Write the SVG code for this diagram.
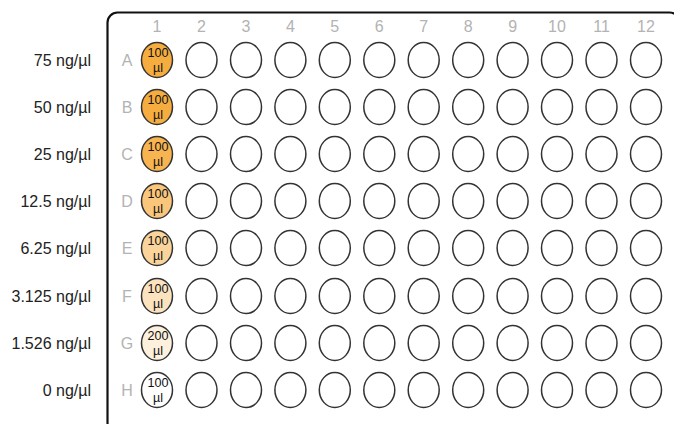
<svg xmlns="http://www.w3.org/2000/svg" width="674" height="424" viewBox="0 0 674 424">
<defs>
<style>
.frame{fill:#fff;stroke:#111;stroke-width:2.2}
.well{stroke:#333;stroke-width:1.5;fill:#fff}
.hdr{font-family:"Liberation Sans",Arial,sans-serif;font-size:16px;fill:#b3b3b3;text-anchor:middle}
.conc{font-family:"Liberation Sans",Arial,sans-serif;font-size:16px;fill:#222;text-anchor:end}
.vol{font-family:"Liberation Sans",Arial,sans-serif;font-size:12.5px;fill:#111;text-anchor:middle}
</style>
</defs>
<rect width="674" height="424" fill="#fff"/>
<g id="plate">
<rect class="frame" x="107.5" y="12.5" width="572" height="420" rx="10"/>
</g>
<g id="column-labels">
<text class="hdr" x="157" y="32">1</text>
<text class="hdr" x="201.5" y="32">2</text>
<text class="hdr" x="246" y="32">3</text>
<text class="hdr" x="290.4" y="32">4</text>
<text class="hdr" x="334.8" y="32">5</text>
<text class="hdr" x="379.3" y="32">6</text>
<text class="hdr" x="423.7" y="32">7</text>
<text class="hdr" x="468.2" y="32">8</text>
<text class="hdr" x="512.6" y="32">9</text>
<text class="hdr" x="557" y="32">10</text>
<text class="hdr" x="601.5" y="32">11</text>
<text class="hdr" x="646" y="32">12</text>
</g>
<g id="row-labels">
<text class="hdr" x="127" y="66">A</text>
<text class="hdr" x="127" y="113">B</text>
<text class="hdr" x="127" y="160">C</text>
<text class="hdr" x="127" y="207">D</text>
<text class="hdr" x="127" y="254">E</text>
<text class="hdr" x="127" y="302">F</text>
<text class="hdr" x="127" y="349">G</text>
<text class="hdr" x="127" y="396">H</text>
</g>
<g id="concentrations">
<text class="conc" x="91" y="66">75 ng/µl</text>
<text class="conc" x="91" y="113">50 ng/µl</text>
<text class="conc" x="91" y="160">25 ng/µl</text>
<text class="conc" x="91" y="207">12.5 ng/µl</text>
<text class="conc" x="91" y="254">6.25 ng/µl</text>
<text class="conc" x="91" y="302">3.125 ng/µl</text>
<text class="conc" x="91" y="349">1.526 ng/µl</text>
<text class="conc" x="91" y="396">0 ng/µl</text>
</g>
<g id="wells">
<g id="row-A">
<ellipse class="well" cx="157" cy="60" rx="15.5" ry="17.5" style="fill:#F6AD40"/>
<ellipse class="well" cx="201.5" cy="60" rx="15.5" ry="17.5"/><ellipse class="well" cx="246" cy="60" rx="15.5" ry="17.5"/><ellipse class="well" cx="290.4" cy="60" rx="15.5" ry="17.5"/><ellipse class="well" cx="334.8" cy="60" rx="15.5" ry="17.5"/><ellipse class="well" cx="379.3" cy="60" rx="15.5" ry="17.5"/><ellipse class="well" cx="423.7" cy="60" rx="15.5" ry="17.5"/><ellipse class="well" cx="468.2" cy="60" rx="15.5" ry="17.5"/><ellipse class="well" cx="512.6" cy="60" rx="15.5" ry="17.5"/><ellipse class="well" cx="557" cy="60" rx="15.5" ry="17.5"/><ellipse class="well" cx="601.5" cy="60" rx="15.5" ry="17.5"/><ellipse class="well" cx="646" cy="60" rx="15.5" ry="17.5"/>
<text class="vol"><tspan x="158" y="57" textLength="21" lengthAdjust="spacingAndGlyphs">100</tspan><tspan x="158" y="71.5">µl</tspan></text>
</g>
<g id="row-B">
<ellipse class="well" cx="157" cy="107" rx="15.5" ry="17.5" style="fill:#F6AD40"/>
<ellipse class="well" cx="201.5" cy="107" rx="15.5" ry="17.5"/><ellipse class="well" cx="246" cy="107" rx="15.5" ry="17.5"/><ellipse class="well" cx="290.4" cy="107" rx="15.5" ry="17.5"/><ellipse class="well" cx="334.8" cy="107" rx="15.5" ry="17.5"/><ellipse class="well" cx="379.3" cy="107" rx="15.5" ry="17.5"/><ellipse class="well" cx="423.7" cy="107" rx="15.5" ry="17.5"/><ellipse class="well" cx="468.2" cy="107" rx="15.5" ry="17.5"/><ellipse class="well" cx="512.6" cy="107" rx="15.5" ry="17.5"/><ellipse class="well" cx="557" cy="107" rx="15.5" ry="17.5"/><ellipse class="well" cx="601.5" cy="107" rx="15.5" ry="17.5"/><ellipse class="well" cx="646" cy="107" rx="15.5" ry="17.5"/>
<text class="vol"><tspan x="158" y="104" textLength="21" lengthAdjust="spacingAndGlyphs">100</tspan><tspan x="158" y="118.5">µl</tspan></text>
</g>
<g id="row-C">
<ellipse class="well" cx="157" cy="154" rx="15.5" ry="17.5" style="fill:#F7B450"/>
<ellipse class="well" cx="201.5" cy="154" rx="15.5" ry="17.5"/><ellipse class="well" cx="246" cy="154" rx="15.5" ry="17.5"/><ellipse class="well" cx="290.4" cy="154" rx="15.5" ry="17.5"/><ellipse class="well" cx="334.8" cy="154" rx="15.5" ry="17.5"/><ellipse class="well" cx="379.3" cy="154" rx="15.5" ry="17.5"/><ellipse class="well" cx="423.7" cy="154" rx="15.5" ry="17.5"/><ellipse class="well" cx="468.2" cy="154" rx="15.5" ry="17.5"/><ellipse class="well" cx="512.6" cy="154" rx="15.5" ry="17.5"/><ellipse class="well" cx="557" cy="154" rx="15.5" ry="17.5"/><ellipse class="well" cx="601.5" cy="154" rx="15.5" ry="17.5"/><ellipse class="well" cx="646" cy="154" rx="15.5" ry="17.5"/>
<text class="vol"><tspan x="158" y="151" textLength="21" lengthAdjust="spacingAndGlyphs">100</tspan><tspan x="158" y="165.5">µl</tspan></text>
</g>
<g id="row-D">
<ellipse class="well" cx="157" cy="201" rx="15.5" ry="17.5" style="fill:#F9C67C"/>
<ellipse class="well" cx="201.5" cy="201" rx="15.5" ry="17.5"/><ellipse class="well" cx="246" cy="201" rx="15.5" ry="17.5"/><ellipse class="well" cx="290.4" cy="201" rx="15.5" ry="17.5"/><ellipse class="well" cx="334.8" cy="201" rx="15.5" ry="17.5"/><ellipse class="well" cx="379.3" cy="201" rx="15.5" ry="17.5"/><ellipse class="well" cx="423.7" cy="201" rx="15.5" ry="17.5"/><ellipse class="well" cx="468.2" cy="201" rx="15.5" ry="17.5"/><ellipse class="well" cx="512.6" cy="201" rx="15.5" ry="17.5"/><ellipse class="well" cx="557" cy="201" rx="15.5" ry="17.5"/><ellipse class="well" cx="601.5" cy="201" rx="15.5" ry="17.5"/><ellipse class="well" cx="646" cy="201" rx="15.5" ry="17.5"/>
<text class="vol"><tspan x="158" y="198" textLength="21" lengthAdjust="spacingAndGlyphs">100</tspan><tspan x="158" y="212.5">µl</tspan></text>
</g>
<g id="row-E">
<ellipse class="well" cx="157" cy="248" rx="15.5" ry="17.5" style="fill:#FAD49A"/>
<ellipse class="well" cx="201.5" cy="248" rx="15.5" ry="17.5"/><ellipse class="well" cx="246" cy="248" rx="15.5" ry="17.5"/><ellipse class="well" cx="290.4" cy="248" rx="15.5" ry="17.5"/><ellipse class="well" cx="334.8" cy="248" rx="15.5" ry="17.5"/><ellipse class="well" cx="379.3" cy="248" rx="15.5" ry="17.5"/><ellipse class="well" cx="423.7" cy="248" rx="15.5" ry="17.5"/><ellipse class="well" cx="468.2" cy="248" rx="15.5" ry="17.5"/><ellipse class="well" cx="512.6" cy="248" rx="15.5" ry="17.5"/><ellipse class="well" cx="557" cy="248" rx="15.5" ry="17.5"/><ellipse class="well" cx="601.5" cy="248" rx="15.5" ry="17.5"/><ellipse class="well" cx="646" cy="248" rx="15.5" ry="17.5"/>
<text class="vol"><tspan x="158" y="245" textLength="21" lengthAdjust="spacingAndGlyphs">100</tspan><tspan x="158" y="259.5">µl</tspan></text>
</g>
<g id="row-F">
<ellipse class="well" cx="157" cy="296" rx="15.5" ry="17.5" style="fill:#FCE3BF"/>
<ellipse class="well" cx="201.5" cy="296" rx="15.5" ry="17.5"/><ellipse class="well" cx="246" cy="296" rx="15.5" ry="17.5"/><ellipse class="well" cx="290.4" cy="296" rx="15.5" ry="17.5"/><ellipse class="well" cx="334.8" cy="296" rx="15.5" ry="17.5"/><ellipse class="well" cx="379.3" cy="296" rx="15.5" ry="17.5"/><ellipse class="well" cx="423.7" cy="296" rx="15.5" ry="17.5"/><ellipse class="well" cx="468.2" cy="296" rx="15.5" ry="17.5"/><ellipse class="well" cx="512.6" cy="296" rx="15.5" ry="17.5"/><ellipse class="well" cx="557" cy="296" rx="15.5" ry="17.5"/><ellipse class="well" cx="601.5" cy="296" rx="15.5" ry="17.5"/><ellipse class="well" cx="646" cy="296" rx="15.5" ry="17.5"/>
<text class="vol"><tspan x="158" y="293" textLength="21" lengthAdjust="spacingAndGlyphs">100</tspan><tspan x="158" y="307.5">µl</tspan></text>
</g>
<g id="row-G">
<ellipse class="well" cx="157" cy="343" rx="15.5" ry="17.5" style="fill:#FDF0DD"/>
<ellipse class="well" cx="201.5" cy="343" rx="15.5" ry="17.5"/><ellipse class="well" cx="246" cy="343" rx="15.5" ry="17.5"/><ellipse class="well" cx="290.4" cy="343" rx="15.5" ry="17.5"/><ellipse class="well" cx="334.8" cy="343" rx="15.5" ry="17.5"/><ellipse class="well" cx="379.3" cy="343" rx="15.5" ry="17.5"/><ellipse class="well" cx="423.7" cy="343" rx="15.5" ry="17.5"/><ellipse class="well" cx="468.2" cy="343" rx="15.5" ry="17.5"/><ellipse class="well" cx="512.6" cy="343" rx="15.5" ry="17.5"/><ellipse class="well" cx="557" cy="343" rx="15.5" ry="17.5"/><ellipse class="well" cx="601.5" cy="343" rx="15.5" ry="17.5"/><ellipse class="well" cx="646" cy="343" rx="15.5" ry="17.5"/>
<text class="vol"><tspan x="158" y="340" textLength="21" lengthAdjust="spacingAndGlyphs">200</tspan><tspan x="158" y="354.5">µl</tspan></text>
</g>
<g id="row-H">
<ellipse class="well" cx="157" cy="390" rx="15.5" ry="17.5"/>
<ellipse class="well" cx="201.5" cy="390" rx="15.5" ry="17.5"/><ellipse class="well" cx="246" cy="390" rx="15.5" ry="17.5"/><ellipse class="well" cx="290.4" cy="390" rx="15.5" ry="17.5"/><ellipse class="well" cx="334.8" cy="390" rx="15.5" ry="17.5"/><ellipse class="well" cx="379.3" cy="390" rx="15.5" ry="17.5"/><ellipse class="well" cx="423.7" cy="390" rx="15.5" ry="17.5"/><ellipse class="well" cx="468.2" cy="390" rx="15.5" ry="17.5"/><ellipse class="well" cx="512.6" cy="390" rx="15.5" ry="17.5"/><ellipse class="well" cx="557" cy="390" rx="15.5" ry="17.5"/><ellipse class="well" cx="601.5" cy="390" rx="15.5" ry="17.5"/><ellipse class="well" cx="646" cy="390" rx="15.5" ry="17.5"/>
<text class="vol"><tspan x="158" y="387" textLength="21" lengthAdjust="spacingAndGlyphs">100</tspan><tspan x="158" y="401.5">µl</tspan></text>
</g>
</g>
</svg>
